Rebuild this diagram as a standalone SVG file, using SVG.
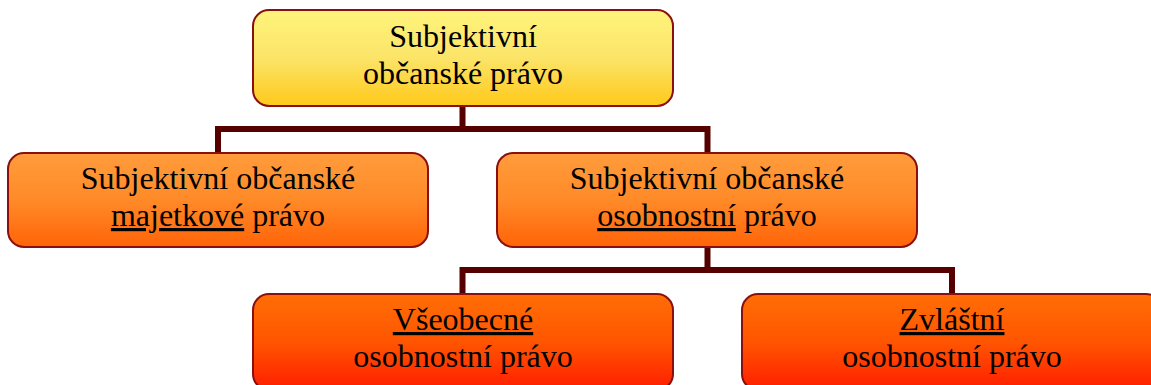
<svg xmlns="http://www.w3.org/2000/svg" width="1151" height="385" viewBox="0 0 1151 385">
  <defs>
    <linearGradient id="gTop" x1="0" y1="0" x2="0" y2="1">
      <stop offset="0" stop-color="#FFF47C"/>
      <stop offset="0.5" stop-color="#FBE468"/>
      <stop offset="1" stop-color="#FFC91A"/>
    </linearGradient>
    <linearGradient id="gMid" x1="0" y1="0" x2="0" y2="1">
      <stop offset="0" stop-color="#FF9C3C"/>
      <stop offset="0.5" stop-color="#FF8A28"/>
      <stop offset="1" stop-color="#FF6408"/>
    </linearGradient>
    <linearGradient id="gLow" x1="0" y1="0" x2="0" y2="1">
      <stop offset="0" stop-color="#FF6E06"/>
      <stop offset="0.5" stop-color="#FF5500"/>
      <stop offset="1" stop-color="#FF1E00"/>
    </linearGradient>
    <style>
      .box { stroke: #8A1010; stroke-width: 2; }
      .lbl { font-family: "Liberation Serif", "Times New Roman", serif; font-size: 32px; fill: #000; text-anchor: middle; }
      .u { text-decoration: underline; }
      .wire { fill: none; stroke: #570000; stroke-width: 6; stroke-linejoin: miter; stroke-linecap: butt; }
    </style>
  </defs>

  <!-- connectors -->
  <g id="connectors">
    <path class="wire" d="M462.5 106 V129 M218 153 V129 H707.5 V153"/>
    <path class="wire" d="M707.5 247 V270 M462.5 294 V270 H952 V294"/>
  </g>

  <!-- root -->
  <g id="node-root">
    <rect class="box" x="253" y="10" width="420" height="96" rx="16" fill="url(#gTop)"/>
    <text class="lbl" x="463" y="47">Subjektivní</text>
    <text class="lbl" x="463" y="84">občanské právo</text>
  </g>

  <!-- second level -->
  <g id="node-majetkove">
    <rect class="box" x="8" y="153" width="420" height="94" rx="16" fill="url(#gMid)"/>
    <text class="lbl" x="218" y="189">Subjektivní občanské</text>
    <text class="lbl" x="218" y="226"><tspan class="u">majetkové</tspan> právo</text>
  </g>

  <g id="node-osobnostni">
    <rect class="box" x="497" y="153" width="420" height="94" rx="16" fill="url(#gMid)"/>
    <text class="lbl" x="707" y="189">Subjektivní občanské</text>
    <text class="lbl" x="707" y="226"><tspan class="u">osobnostní</tspan> právo</text>
  </g>

  <!-- third level -->
  <g id="node-vseobecne">
    <rect class="box" x="253" y="294" width="420" height="96" rx="16" fill="url(#gLow)"/>
    <text class="lbl" x="463" y="330"><tspan class="u">Všeobecné</tspan></text>
    <text class="lbl" x="463" y="367">osobnostní právo</text>
  </g>

  <g id="node-zvlastni">
    <rect class="box" x="742" y="294" width="420" height="96" rx="16" fill="url(#gLow)"/>
    <text class="lbl" x="952" y="330"><tspan class="u">Zvláštní</tspan></text>
    <text class="lbl" x="952" y="367">osobnostní právo</text>
  </g>
</svg>
